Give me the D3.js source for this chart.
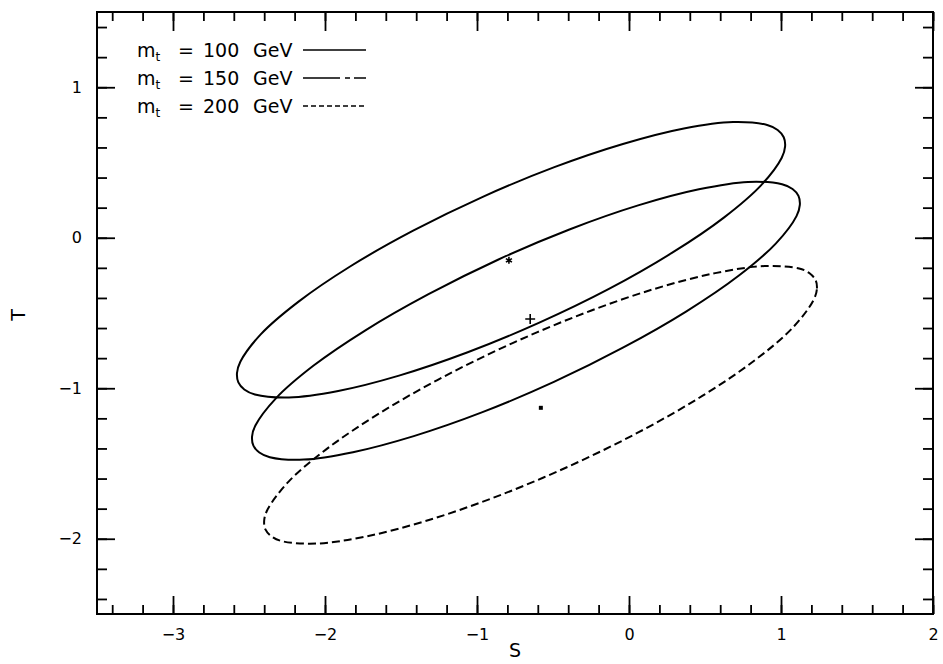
<!DOCTYPE html>
<html>
<head>
<meta charset="utf-8">
<script src="https://cdnjs.cloudflare.com/ajax/libs/d3/7.8.5/d3.min.js"></script>
<style>
  body { margin: 0; background: #fff; }
  text { font-family: "DejaVu Sans", sans-serif; fill: #000; }
</style>
</head>
<body>
<svg id="chart" width="943" height="664"></svg>
<script>
// contour points, [S, T], going round each ellipse
const contour100 = [
  [1.018, 0.668], [1.027, 0.607], [1.005, 0.532], [0.870, 0.350], [0.624, 0.134],
  [0.282, -0.101], [-0.132, -0.340], [-0.590, -0.564], [-1.061, -0.761], [-1.513, -0.916],
  [-1.913, -1.018], [-2.237, -1.061], [-2.461, -1.041], [-2.531, -1.008], [-2.570, -0.961],
  [-2.579, -0.899], [-2.557, -0.824], [-2.423, -0.642], [-2.176, -0.426], [-1.835, -0.191],
  [-1.420, 0.047], [-0.962, 0.272], [-0.491, 0.469], [-0.040, 0.623], [0.361, 0.726],
  [0.685, 0.769], [0.909, 0.749], [0.978, 0.716]
];
const contour150 = [
  [1.115, 0.278], [1.124, 0.218], [1.102, 0.144], [0.967, -0.037], [0.721, -0.253],
  [0.378, -0.489], [-0.037, -0.729], [-0.494, -0.958], [-0.964, -1.159], [-1.416, -1.318],
  [-1.816, -1.425], [-2.139, -1.474], [-2.363, -1.458], [-2.432, -1.427], [-2.471, -1.381],
  [-2.480, -1.321], [-2.458, -1.248], [-2.323, -1.067], [-2.077, -0.851], [-1.734, -0.615],
  [-1.319, -0.375], [-0.862, -0.146], [-0.392, 0.055], [0.060, 0.215], [0.460, 0.322],
  [0.783, 0.371], [1.007, 0.355], [1.076, 0.324]
];
const contour200 = [
  [1.228, -0.282], [1.236, -0.343], [1.213, -0.416], [1.077, -0.598], [0.828, -0.814],
  [0.482, -1.051], [0.064, -1.292], [-0.398, -1.520], [-0.873, -1.720], [-1.328, -1.879],
  [-1.731, -1.985], [-2.057, -2.032], [-2.283, -2.016], [-2.352, -1.984], [-2.392, -1.938],
  [-2.400, -1.877], [-2.377, -1.804], [-2.241, -1.622], [-1.992, -1.406], [-1.646, -1.169],
  [-1.228, -0.928], [-0.766, -0.700], [-0.291, -0.500], [0.164, -0.341], [0.567, -0.235],
  [0.893, -0.188], [1.119, -0.204], [1.188, -0.236]
];
const masses = [100, 150, 200];
const contours = [contour100, contour150, contour200];
const bestFit = [[-0.79, -0.15], [-0.65, -0.54], [-0.58, -1.13]];
const xMajor = [-3, -2, -1, 0, 1, 2];
const yMajor = [-2, -1, 0, 1];

const styles = [
  {line: null, legend: null, marker: "asterisk"},
  {line: null, legend: "37,5,5,4", marker: "plus"},
  {line: "8,4", legend: "5,3", marker: "square"}
];

const svg = d3.select("#chart");
const W = 943, H = 664;
const margin = {left: 97, right: 10, top: 12, bottom: 50};

const x = d3.scaleLinear().domain([-3.5, 2]).range([margin.left, W - margin.right]);
const y = d3.scaleLinear().domain([-2.5, 1.5]).range([H - margin.bottom, margin.top]);

const xMinor = x.ticks(28);
const yMinor = y.ticks(20);
const fmt = d3.format("d");

// ticks on all four sides, pointing in
function ticks(axisFn, scale, transform, values, size, labels) {
  const a = axisFn(scale).tickValues(values).tickSize(-size);
  if (labels) a.tickFormat(fmt).tickPadding(labels); else a.tickFormat("");
  const g = svg.append("g").attr("transform", transform).call(a);
  g.select(".domain").remove();
  g.selectAll("line").attr("stroke", "#000").attr("stroke-width", 1.8);
  g.selectAll("text").attr("font-size", 16).attr("fill", "#000")
    .attr("font-family", '"DejaVu Sans", sans-serif');
  return g;
}
const bottomY = y.range()[0], topY = y.range()[1];
const leftX = x.range()[0], rightX = x.range()[1];

ticks(d3.axisBottom, x, `translate(0,${bottomY})`, xMinor, 9);
ticks(d3.axisBottom, x, `translate(0,${bottomY})`, xMajor, 18, 15);
ticks(d3.axisTop, x, `translate(0,${topY})`, xMinor, 9);
ticks(d3.axisTop, x, `translate(0,${topY})`, xMajor, 19);
ticks(d3.axisLeft, y, `translate(${leftX},0)`, yMinor, 10);
ticks(d3.axisLeft, y, `translate(${leftX},0)`, yMajor, 18, 15);
ticks(d3.axisRight, y, `translate(${rightX},0)`, yMinor, 10);
ticks(d3.axisRight, y, `translate(${rightX},0)`, yMajor, 18);

// frame
svg.append("rect")
  .attr("x", leftX).attr("y", topY)
  .attr("width", rightX - leftX).attr("height", bottomY - topY)
  .attr("fill", "none").attr("stroke", "#000").attr("stroke-width", 2);

// axis titles
svg.append("text").attr("x", 515).attr("y", 657)
  .attr("text-anchor", "middle").attr("font-size", 19).text("S");
svg.append("text").attr("transform", "translate(25,315) rotate(-90)")
  .attr("text-anchor", "middle").attr("font-size", 19).text("T");

// contours
const line = d3.line()
  .x(d => x(d[0])).y(d => y(d[1]))
  .curve(d3.curveCatmullRomClosed.alpha(0.5));

svg.selectAll(".contour")
  .data(contours)
  .enter().append("path")
  .attr("class", "contour")
  .attr("d", line)
  .attr("fill", "none")
  .attr("stroke", "#000")
  .attr("stroke-width", 2)
  .attr("stroke-dasharray", (d, i) => styles[i].line);

// best-fit markers
const symType = {
  asterisk: d3.symbolAsterisk || d3.symbolStar,
  plus: d3.symbolPlus || d3.symbolCross,
  square: d3.symbolSquare
};
svg.selectAll(".fit")
  .data(bestFit)
  .enter().append("path")
  .attr("class", "fit")
  .attr("transform", d => `translate(${x(d[0])},${y(d[1])})`)
  .attr("d", (d, i) => d3.symbol().type(symType[styles[i].marker]).size(styles[i].marker === "square" ? 16 : 34)())
  .attr("fill", (d, i) => styles[i].marker === "square" ? "#000" : "none")
  .attr("stroke", "#000")
  .attr("stroke-width", (d, i) => styles[i].marker === "square" ? 0 : 1.6);

// legend
const legend = svg.append("g").attr("transform", "translate(137,57)");
masses.forEach((m, i) => {
  const row = legend.append("g").attr("transform", `translate(0,${i * 28})`);
  const t = row.append("text").attr("font-size", 19);
  t.append("tspan").text("m");
  t.append("tspan").attr("font-size", 12).attr("dy", 4).text("t");
  row.append("text").attr("x", 41).attr("font-size", 19).text("=");
  row.append("text").attr("x", 66).attr("font-size", 19).text(m);
  row.append("text").attr("x", 116).attr("font-size", 19).text("GeV");
  row.append("line")
    .attr("x1", 166).attr("x2", 229).attr("y1", -7).attr("y2", -7)
    .attr("stroke", "#000").attr("stroke-width", 1.6)
    .attr("stroke-dasharray", styles[i].legend);
});
</script>
</body>
</html>
